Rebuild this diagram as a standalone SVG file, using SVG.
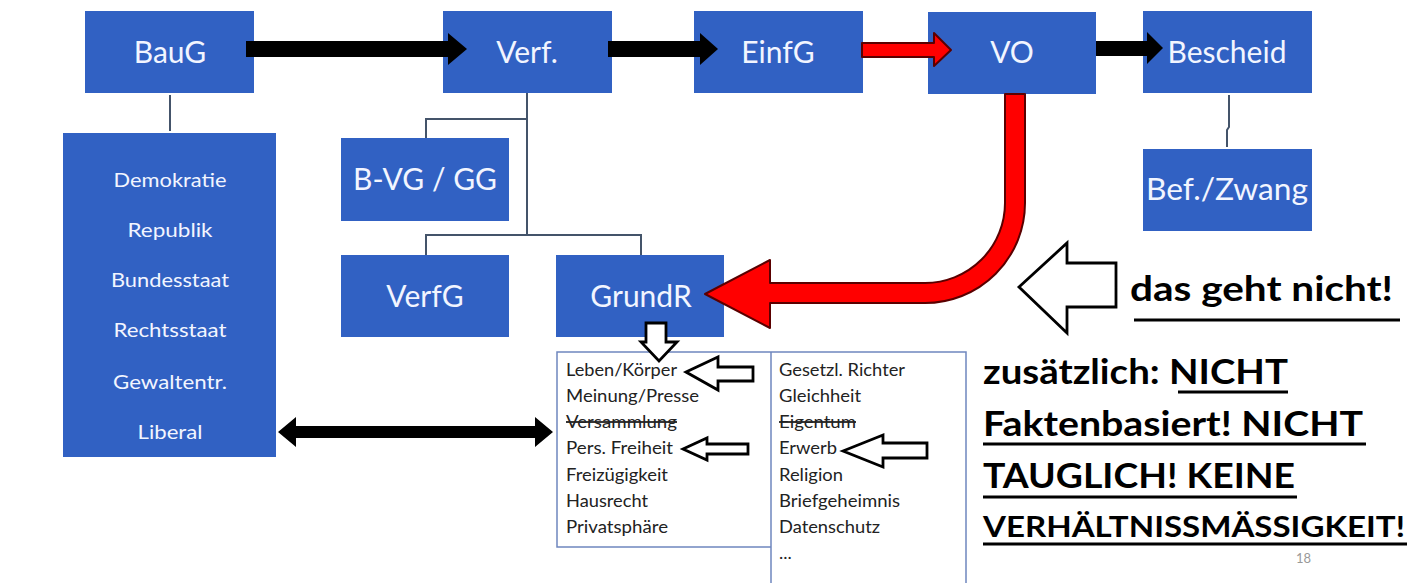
<svg xmlns="http://www.w3.org/2000/svg" width="1421" height="583" viewBox="0 0 1421 583">
<style>
.box{fill:#3161C3}
.bl{font-family:Lato,"Liberation Sans",sans-serif;font-size:30px;fill:#F2F5FF;text-anchor:middle}
.sl{font-family:Lato,"Liberation Sans",sans-serif;font-size:20px;fill:#F2F5FF;text-anchor:middle}
.li{font-family:Lato,"Liberation Sans",sans-serif;font-size:18px;fill:#222}
.conn{fill:none;stroke:#44546A;stroke-width:2}
.blk{fill:#000}
.red{fill:#FF0000;stroke:#5a0000;stroke-width:2;stroke-linejoin:round}
.out{fill:#fff;stroke:#000;stroke-width:2.8;stroke-linejoin:miter}
.big{font-family:Lato,"Liberation Sans",sans-serif;font-weight:bold;fill:#000}
.ul{stroke:#000;stroke-width:3}
.frame{fill:none;stroke:#6F87BE;stroke-width:1.5}
</style>
<rect width="1421" height="583" fill="#fff"/>

<g id="n-baug"><rect class="box" x="85" y="11" width="169" height="82"/><text class="bl" x="170" y="63">BauG</text></g>
<g id="n-verf"><rect class="box" x="443" y="11" width="169" height="82"/><text class="bl" x="527" y="63">Verf.</text></g>
<g id="n-einfg"><rect class="box" x="694" y="11" width="169" height="82"/><text class="bl" x="778" y="63">EinfG</text></g>
<g id="n-vo"><rect class="box" x="928" y="12" width="168" height="82"/><text class="bl" x="1012" y="63">VO</text></g>
<g id="n-bescheid"><rect class="box" x="1143" y="11" width="169" height="82"/><text class="bl" x="1227" y="63">Bescheid</text></g>
<g id="n-befzwang"><rect class="box" x="1143" y="149" width="169" height="82"/><text class="bl" x="1227" y="200" textLength="162" lengthAdjust="spacingAndGlyphs">Bef./Zwang</text></g>
<g id="n-bvg"><rect class="box" x="341" y="138" width="168" height="83"/><text class="bl" x="425" y="190">B-VG / GG</text></g>
<g id="n-verfg"><rect class="box" x="341" y="255" width="168" height="82"/><text class="bl" x="425" y="307">VerfG</text></g>
<g id="n-grundr"><rect class="box" x="556" y="255" width="168" height="82"/><text class="bl" x="641" y="307">GrundR</text></g>

<g id="n-prinzipien">
  <rect class="box" x="63" y="133" width="213" height="324"/>
  <text class="sl" x="170" y="187" textLength="113" lengthAdjust="spacingAndGlyphs">Demokratie</text>
  <text class="sl" x="170" y="237" textLength="85" lengthAdjust="spacingAndGlyphs">Republik</text>
  <text class="sl" x="170" y="287" textLength="118" lengthAdjust="spacingAndGlyphs">Bundesstaat</text>
  <text class="sl" x="170" y="337" textLength="113" lengthAdjust="spacingAndGlyphs">Rechtsstaat</text>
  <text class="sl" x="170" y="389" textLength="114" lengthAdjust="spacingAndGlyphs">Gewaltentr.</text>
  <text class="sl" x="170" y="439" textLength="65" lengthAdjust="spacingAndGlyphs">Liberal</text>
</g>

<g id="n-grundrechte">
  <path class="frame" d="M771 547 H557 V352 H966 V583 M771 352 V583"/>
  <text class="li" x="566" y="376" textLength="111" lengthAdjust="spacingAndGlyphs">Leben/Körper</text>
  <text class="li" x="566" y="402" textLength="133" lengthAdjust="spacingAndGlyphs">Meinung/Presse</text>
  <text class="li" x="566" y="428" textLength="111" lengthAdjust="spacingAndGlyphs" text-decoration="line-through">Versammlung</text>
  <text class="li" x="566" y="454" textLength="107" lengthAdjust="spacingAndGlyphs">Pers. Freiheit</text>
  <text class="li" x="566" y="481" textLength="102" lengthAdjust="spacingAndGlyphs">Freizügigkeit</text>
  <text class="li" x="566" y="507" textLength="82" lengthAdjust="spacingAndGlyphs">Hausrecht</text>
  <text class="li" x="566" y="533" textLength="102" lengthAdjust="spacingAndGlyphs">Privatsphäre</text>
  <text class="li" x="779" y="376" textLength="126" lengthAdjust="spacingAndGlyphs">Gesetzl. Richter</text>
  <text class="li" x="779" y="402" textLength="82" lengthAdjust="spacingAndGlyphs">Gleichheit</text>
  <text class="li" x="779" y="428" textLength="77" lengthAdjust="spacingAndGlyphs" text-decoration="line-through">Eigentum</text>
  <text class="li" x="779" y="454" textLength="58" lengthAdjust="spacingAndGlyphs">Erwerb</text>
  <text class="li" x="779" y="481" textLength="64" lengthAdjust="spacingAndGlyphs">Religion</text>
  <text class="li" x="779" y="507" textLength="121" lengthAdjust="spacingAndGlyphs">Briefgeheimnis</text>
  <text class="li" x="779" y="533" textLength="101" lengthAdjust="spacingAndGlyphs">Datenschutz</text>
  <text class="li" x="779" y="559">...</text>
</g>

<g id="connectors">
  <path class="conn" d="M170 95 V131"/>
  <path class="conn" d="M527 93 V235 M527 119 H426 V138 M426 255 V235 H641 V255"/>
  <path class="conn" d="M1229 95 V127 L1227 130 V147"/>
  <polygon class="blk" points="246,41 448,41 448,33 467,49 448,65 448,57 246,57"/>
  <polygon class="blk" points="608,41 700,41 700,33 718,49 700,65 700,57 608,57"/>
  <polygon class="red" points="862,43 934,43 934,33 951,50 934,66 934,57 862,57"/>
  <polygon class="blk" points="1096,41 1147,41 1147,32 1163,48 1147,64 1147,56 1096,56"/>
  <path class="red" d="M1025 94 V203 A100 100 0 0 1 925 303 H770 V328 L705 294 L770 260 V283 H925 A80 80 0 0 0 1005 203 V94 Z"/>
  <polygon class="blk" points="278,432 296,417 296,426 535,426 535,417 553,432 535,447 535,438 296,438 296,447"/>
</g>

<g id="hinweis-pfeile">
  <polygon class="out" points="646,323 666,323 666,342 677,342 659,361 641,342 646,342"/>
  <polygon class="out" points="686,372 718,357 718,367 753,367 753,381 718,381 718,390"/>
  <polygon class="out" points="683,449 707,438 707,444 748,444 748,454 707,454 707,460"/>
  <polygon class="out" points="843,451 883,435 883,443 927,443 927,458 883,458 883,467"/>
  <polygon class="out" points="1019,287 1067,243 1067,263 1116,263 1116,307 1067,307 1067,333"/>
</g>

<g id="kommentar">
  <text class="big" x="1130" y="301" font-size="34" textLength="263" lengthAdjust="spacingAndGlyphs">das geht nicht!</text>
  <line class="ul" x1="1134" y1="320" x2="1400" y2="320"/>
  <text class="big" x="983" y="384" font-size="34" textLength="305" lengthAdjust="spacingAndGlyphs">zusätzlich: NICHT</text>
  <line class="ul" x1="1178" y1="392" x2="1288" y2="392"/>
  <text class="big" x="983" y="436" font-size="34" textLength="380" lengthAdjust="spacingAndGlyphs">Faktenbasiert! NICHT</text>
  <line class="ul" x1="983" y1="444" x2="1366" y2="444"/>
  <text class="big" x="983" y="488" font-size="34" textLength="312" lengthAdjust="spacingAndGlyphs">TAUGLICH! KEINE</text>
  <line class="ul" x1="983" y1="497" x2="1297" y2="497"/>
  <text class="big" x="983" y="537" font-size="29" textLength="422" lengthAdjust="spacingAndGlyphs">VERHÄLTNISSMÄSSIGKEIT!</text>
  <line class="ul" x1="983" y1="544" x2="1407" y2="544"/>
  <text x="1296" y="563" font-family="Lato,'Liberation Sans',sans-serif" font-size="13" fill="#999">18</text>
</g>
</svg>
